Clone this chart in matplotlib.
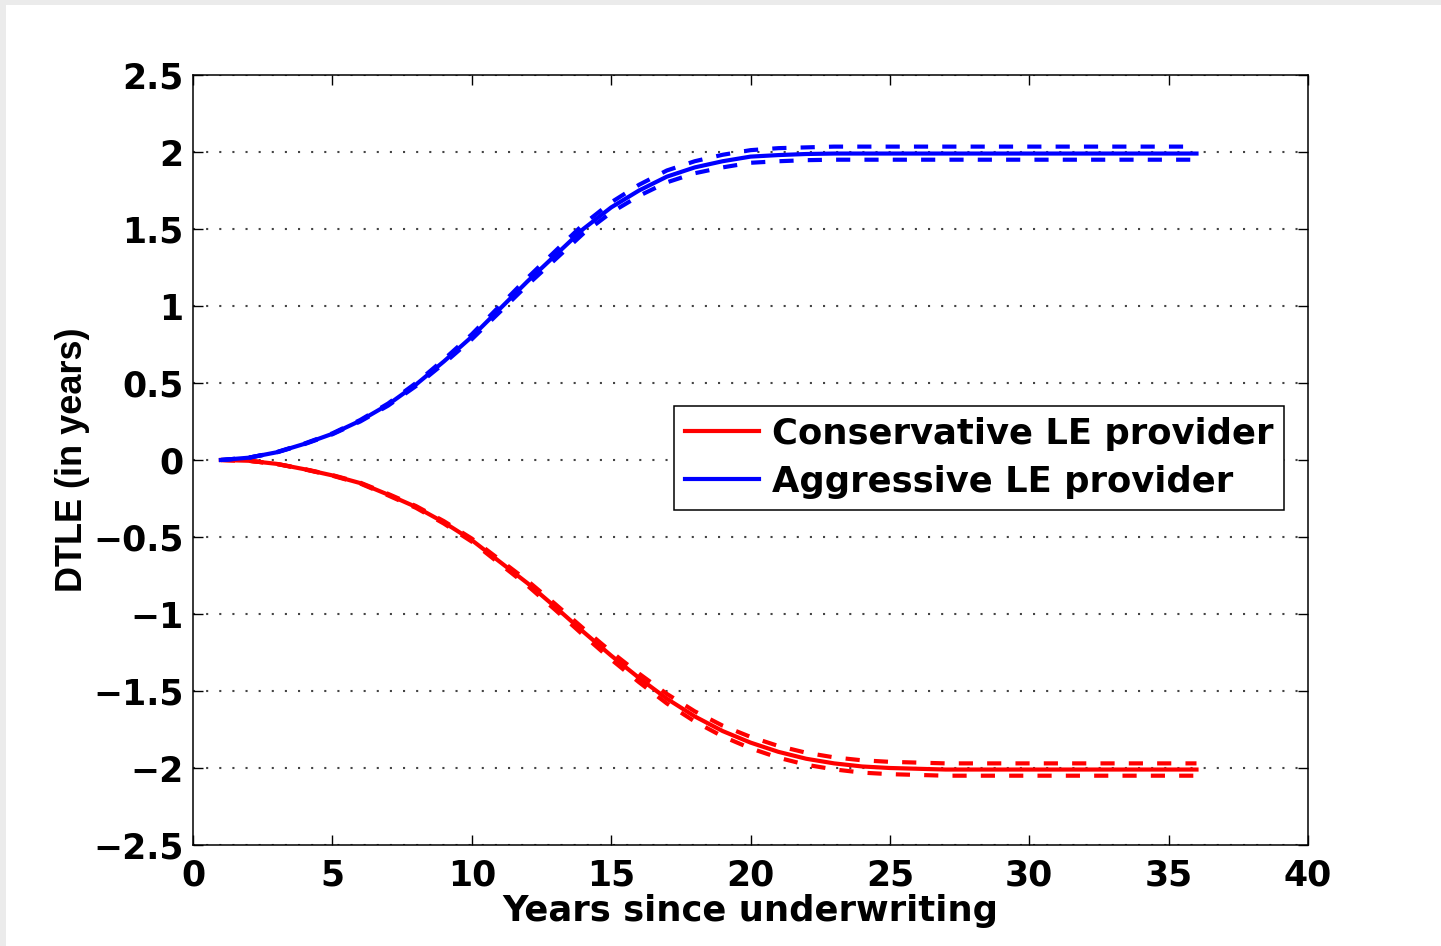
import matplotlib.pyplot as plt
from matplotlib.patches import Rectangle

plt.rcParams['font.family'] = ['DejaVu Sans']
plt.rcParams['font.weight'] = 'bold'

years = list(range(1, 37))

# aggressive provider: mean DTLE and dashed band
aggressive = [0, 0.015, 0.05, 0.105, 0.17, 0.255, 0.36, 0.49, 0.64, 0.80,
              0.98, 1.16, 1.33, 1.50, 1.64, 1.75, 1.84, 1.90, 1.94, 1.97,
              1.98, 1.987, 1.99, 1.99, 1.99, 1.99, 1.99, 1.99, 1.99, 1.99,
              1.99, 1.99, 1.99, 1.99, 1.99, 1.99]
aggressive_hi = [0, 0.015, 0.051, 0.107, 0.173, 0.26, 0.367, 0.50, 0.653, 0.816,
                 1.0, 1.183, 1.357, 1.53, 1.673, 1.787, 1.88, 1.94, 1.982, 2.012,
                 2.025, 2.03, 2.035, 2.035, 2.035, 2.035, 2.035, 2.035, 2.035, 2.035,
                 2.035, 2.035, 2.035, 2.035, 2.035, 2.035]
aggressive_lo = [0, 0.015, 0.049, 0.103, 0.167, 0.25, 0.353, 0.48, 0.627, 0.784,
                 0.96, 1.137, 1.303, 1.47, 1.607, 1.715, 1.803, 1.862, 1.90, 1.93,
                 1.94, 1.947, 1.95, 1.95, 1.95, 1.95, 1.95, 1.95, 1.95, 1.95,
                 1.95, 1.95, 1.95, 1.95, 1.95, 1.95]

# conservative provider: mean DTLE and dashed band
conservative = [0, -0.005, -0.025, -0.06, -0.10, -0.15, -0.225, -0.305, -0.405, -0.52,
                -0.66, -0.80, -0.955, -1.115, -1.27, -1.415, -1.55, -1.665, -1.76, -1.835,
                -1.895, -1.94, -1.97, -1.99, -2.0, -2.005, -2.01, -2.01, -2.01, -2.01,
                -2.01, -2.01, -2.01, -2.01, -2.01, -2.01]
conservative_hi = [0, -0.005, -0.025, -0.059, -0.098, -0.147, -0.22, -0.299, -0.397, -0.51,
                   -0.647, -0.784, -0.936, -1.093, -1.245, -1.387, -1.519, -1.632, -1.725, -1.798,
                   -1.857, -1.901, -1.931, -1.95, -1.96, -1.965, -1.97, -1.97, -1.97, -1.97,
                   -1.97, -1.97, -1.97, -1.97, -1.97, -1.97]
conservative_lo = [0, -0.005, -0.026, -0.061, -0.102, -0.153, -0.23, -0.311, -0.413, -0.53,
                   -0.673, -0.816, -0.974, -1.137, -1.295, -1.443, -1.581, -1.698, -1.795, -1.872,
                   -1.933, -1.979, -2.009, -2.03, -2.04, -2.045, -2.05, -2.05, -2.05, -2.05,
                   -2.05, -2.05, -2.05, -2.05, -2.05, -2.05]

xticks = [0, 5, 10, 15, 20, 25, 30, 35, 40]
yticks = [-2.5, -2, -1.5, -1, -0.5, 0, 0.5, 1, 1.5, 2, 2.5]
ytick_labels = ['\u22122.5', '\u22122', '\u22121.5', '\u22121', '\u22120.5', '0',
                '0.5', '1', '1.5', '2', '2.5']

fs = 25.5

fig = plt.figure(figsize=(14.41, 9.46), dpi=100, facecolor='#ebebeb')
fig.patches.append(Rectangle((6 / 1441, 0), 1 - 6 / 1441, 941 / 946,
                             transform=fig.transFigure, facecolor='white',
                             edgecolor='none', zorder=-10))
ax = fig.add_axes([193 / 1441, 101 / 946, 1115 / 1441, 770 / 946])

dash = (0, (3.4, 3.4))
ax.plot(years, conservative, color='red', lw=3, label='Conservative LE provider')
ax.plot(years, conservative_hi, color='red', lw=3, linestyle=dash)
ax.plot(years, conservative_lo, color='red', lw=3, linestyle=dash)
ax.plot(years, aggressive, color='blue', lw=3, label='Aggressive LE provider')
ax.plot(years, aggressive_hi, color='blue', lw=3, linestyle=dash)
ax.plot(years, aggressive_lo, color='blue', lw=3, linestyle=dash)

ax.set_xlim(0, 40)
ax.set_ylim(-2.5, 2.5)
ax.set_xticks(xticks)
ax.set_yticks(yticks)
ax.set_yticklabels(ytick_labels)
ax.yaxis.grid(True, linestyle=(0, (1, 5.3)), lw=1.5, color='#444444')
ax.set_axisbelow(True)

ax.tick_params(direction='in', length=7, width=1, top=True, right=True,
               labelsize=25)
ax.tick_params(axis='x', pad=10)
ax.tick_params(axis='y', pad=7)
for s in ax.spines.values():
    s.set_linewidth(1.1)

ax.set_xlabel('Years since underwriting', fontsize=fs, fontweight='bold', labelpad=1)
ax.set_ylabel('DTLE (in years)', fontsize=26, fontweight='bold', labelpad=2,
              family=['Liberation Sans', 'DejaVu Sans'])

leg = ax.legend(loc='upper right', bbox_to_anchor=(0.9785, 0.570), borderaxespad=0,
                fontsize=fs, fancybox=False, edgecolor='black', framealpha=1,
                handlelength=2.09, handletextpad=0.37, borderpad=0.3,
                labelspacing=0.4)
leg.get_frame().set_linewidth(1.1)

fig.savefig('out.png', dpi=100, facecolor=fig.get_facecolor())
